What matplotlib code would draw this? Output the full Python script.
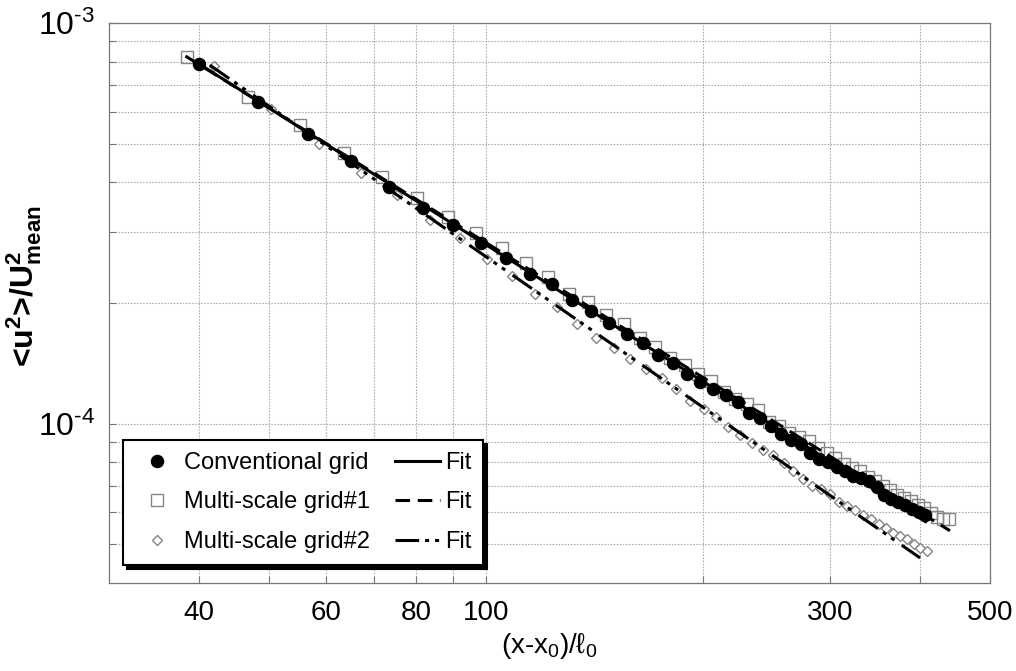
import numpy as np
import matplotlib
matplotlib.use("Agg")
import matplotlib.pyplot as plt
from matplotlib import font_manager
from matplotlib.ticker import FixedLocator, FixedFormatter, NullFormatter
from matplotlib.lines import Line2D

# ---------------- data (y in units of 1e-4) ----------------
conv_x = [40.0, 48.3, 56.7, 65.0, 73.3, 81.7, 90.0, 98.3, 106.7, 115.0, 123.3, 131.7,
          140.0, 148.3, 156.7, 165.0, 173.3, 181.7, 190.0, 198.3, 206.7, 215.0, 223.3,
          231.7, 240.0, 248.3, 256.7, 265.0, 273.3, 281.7, 290.0, 298.3, 306.7, 315.0,
          323.3, 331.7, 340.0, 348.3, 356.7, 365.0, 373.3, 381.7, 390.0, 398.3, 406.7]
conv_y = [7.90, 6.35, 5.28, 4.52, 3.89, 3.45, 3.14, 2.82, 2.59, 2.36, 2.23, 2.04,
          1.91, 1.78, 1.67, 1.585, 1.48, 1.42, 1.33, 1.27, 1.22, 1.18, 1.13,
          1.065, 1.03, 0.989, 0.944, 0.912, 0.891, 0.846, 0.818, 0.804, 0.781, 0.763,
          0.740, 0.732, 0.720, 0.696, 0.665, 0.649, 0.638, 0.627, 0.613, 0.603, 0.592]

ms1_x = [38.5, 46.8, 55.2, 63.5, 71.8, 80.2, 88.5, 96.8, 105.2, 113.5, 121.8, 130.2,
         138.5, 146.8, 155.2, 163.5, 171.8, 180.2, 188.5, 196.8, 205.2, 213.5, 221.8,
         230.2, 238.5, 246.8, 255.2, 263.5, 271.8, 280.2, 288.5, 296.8, 305.2, 313.5,
         321.8, 330.2, 338.5, 346.8, 355.2, 363.5, 371.8, 380.2, 388.5, 396.8, 405.2,
         413.5, 421.8, 430.2, 438.5]
ms1_y = [8.22, 6.53, 5.56, 4.73, 4.12, 3.65, 3.27, 2.99, 2.75, 2.51, 2.32, 2.11,
         2.01, 1.87, 1.77, 1.64, 1.55, 1.46, 1.40, 1.33, 1.28, 1.20, 1.155,
         1.12, 1.08, 1.01, 0.989, 0.950, 0.928, 0.907, 0.871, 0.846, 0.822, 0.794,
         0.776, 0.763, 0.737, 0.720, 0.700, 0.684, 0.665, 0.653, 0.642, 0.627, 0.617,
         0.599, 0.586, 0.579, 0.579]

ms2_x = [42.0, 50.3, 58.7, 67.0, 75.3, 83.7, 92.0, 100.3, 108.7, 117.0, 125.3, 133.7,
         142.0, 150.3, 158.6, 166.9, 175.3, 183.6, 191.9, 200.3, 208.6, 216.9, 225.3,
         233.6, 241.9, 250.3, 258.6, 266.9, 275.3, 283.6, 291.9, 300.3, 308.6, 316.9,
         325.3, 333.6, 341.9, 350.3, 358.6, 366.9, 375.3, 383.6, 391.9, 400.3, 408.6]
ms2_y = [7.81, 6.10, 4.98, 4.22, 3.72, 3.22, 2.90, 2.57, 2.33, 2.11, 1.95, 1.77,
         1.64, 1.54, 1.45, 1.365, 1.30, 1.22, 1.14, 1.09, 1.04, 0.979, 0.939,
         0.897, 0.861, 0.833, 0.796, 0.762, 0.729, 0.700, 0.688, 0.668, 0.638, 0.624,
         0.610, 0.592, 0.577, 0.562, 0.548, 0.534, 0.525, 0.514, 0.500, 0.490, 0.481]

# power-law fits (end points of the straight log-log lines)
fit_conv_x = [40.0, 407.0]
fit_conv_y = [7.90, 0.569]
fit_ms1_x = [38.3, 440.0]
fit_ms1_y = [8.27, 0.540]
fit_ms2_x = [41.4, 400.0]
fit_ms2_y = [7.85, 0.462]

series_labels = ['Conventional grid', 'Multi-scale grid#1', 'Multi-scale grid#2']
fit_label = 'Fit'
xtick_vals = [40, 60, 80, 100, 300, 500]
xtick_labels = ['40', '60', '80', '100', '300', '500']
xgrid_minor = [40, 50, 60, 70, 80, 90, 100, 200, 300, 400]
ytick_vals = [1e-4, 1e-3]
ytick_labels = ['10$^{\u20104}$', '10$^{\u20103}$']
ygrid_minor = [5e-5, 6e-5, 7e-5, 8e-5, 9e-5, 2e-4, 3e-4, 4e-4, 5e-4, 6e-4, 7e-4, 8e-4, 9e-4]
SCALE = 1e-4

# ---------------- style ----------------
names = {f.name for f in font_manager.fontManager.ttflist}
BASE = 'Liberation Sans' if 'Liberation Sans' in names else 'DejaVu Sans'
NARROW = 'Liberation Sans Narrow' if 'Liberation Sans Narrow' in names else BASE

plt.rcParams.update({
    'font.family': [BASE, 'DejaVu Sans'],
    'mathtext.fontset': 'custom',
    'mathtext.rm': BASE,
    'mathtext.it': BASE + ':italic',
    'mathtext.bf': BASE + ':bold',
    'lines.scale_dashes': False,
})

fig = plt.figure(figsize=(10.16, 6.71), dpi=100)
ax = fig.add_axes([109 / 1016, 88 / 671, 881 / 1016, 560 / 671])
ax.set_xscale('log')
ax.set_yscale('log')

DASH = (0, (10.5, 5.5))
DASHDOT = (0, (17, 4.3, 2.9, 4.3, 2.9, 6.5))
gray = '#858585'

sq_kw = dict(ls='none', marker='s', ms=8.3, mfc='none', mec=gray, mew=1.0)
di_kw = dict(ls='none', marker='D', ms=5.2, mfc='white', mec=gray, mew=1.0)
ci_kw = dict(ls='none', marker='o', ms=8.7, color='black')

ax.plot(ms1_x, np.array(ms1_y) * SCALE, zorder=2, **sq_kw)
ax.plot(ms2_x, np.array(ms2_y) * SCALE, zorder=2, **di_kw)
ax.plot(fit_conv_x, np.array(fit_conv_y) * SCALE, color='k', lw=2.2, ls='-', zorder=3)
ax.plot(fit_ms1_x, np.array(fit_ms1_y) * SCALE, color='k', lw=2.2, ls=DASH, zorder=3)
ax.plot(fit_ms2_x, np.array(fit_ms2_y) * SCALE, color='k', lw=2.2, ls=DASHDOT, zorder=3)
ax.plot(conv_x, np.array(conv_y) * SCALE, zorder=4, **ci_kw)

ax.set_xlim(30, 500)
ax.set_ylim(4e-5, 1e-3)

ax.xaxis.set_major_locator(FixedLocator(xtick_vals))
ax.xaxis.set_major_formatter(FixedFormatter(xtick_labels))
ax.xaxis.set_minor_locator(FixedLocator(xgrid_minor))
ax.xaxis.set_minor_formatter(NullFormatter())
ax.yaxis.set_major_locator(FixedLocator(ytick_vals))
ax.yaxis.set_major_formatter(FixedFormatter(ytick_labels))
ax.yaxis.set_minor_locator(FixedLocator(ygrid_minor))
ax.yaxis.set_minor_formatter(NullFormatter())

ax.grid(True, which='both', color='#a8a8a8', ls=(0, (1.1, 1.1)), lw=0.8, zorder=0)
ax.set_axisbelow(True)
for s in ax.spines.values():
    s.set_color('#777777')
    s.set_linewidth(0.9)

ax.tick_params(axis='both', which='both', direction='in', length=5, width=0.8,
               color='#777777')
ax.tick_params(axis='x', which='major', labelsize=20, pad=12)
ax.tick_params(axis='y', which='major', labelsize=23, pad=10)
for t in ax.get_yticklabels():
    t.set_family([NARROW, 'DejaVu Sans'])

ax.set_xlabel('(x-x$_{\\mathregular{0}}$)/\u2113$_{\\mathregular{0}}$', fontsize=20)
ax.xaxis.set_label_coords(0.5, -0.085)
ax.xaxis.label.set_va('top')
ax.set_ylabel('<u$^{\\mathbf{2}}$>/U$^{\\mathbf{2}}_{\\mathbf{mean}}$', fontsize=23,
              fontweight='bold')
ax.yaxis.set_label_coords(-0.074, 0.53)

handles = [
    Line2D([], [], **ci_kw),
    Line2D([], [], **sq_kw),
    Line2D([], [], **di_kw),
    Line2D([], [], color='k', lw=2.2, ls='-'),
    Line2D([], [], color='k', lw=2.2, ls=DASH),
    Line2D([], [], color='k', lw=2.2, ls=DASHDOT),
]
labels = series_labels + [fit_label] * 3
leg = ax.legend(handles=handles, labels=labels, ncol=2, loc='lower left',
                bbox_to_anchor=(123 / 1016, 106 / 671), bbox_transform=fig.transFigure,
                borderaxespad=0, fontsize=17, frameon=True, fancybox=False,
                edgecolor='k', framealpha=1, handlelength=1.9, handletextpad=0.2,
                columnspacing=1.05, borderpad=0.5, labelspacing=0.75,
                shadow={'color': 'k', 'alpha': 1, 'ox': 3, 'oy': -3})
leg.get_frame().set_linewidth(1.5)

fig.savefig('out.png', dpi=100)
